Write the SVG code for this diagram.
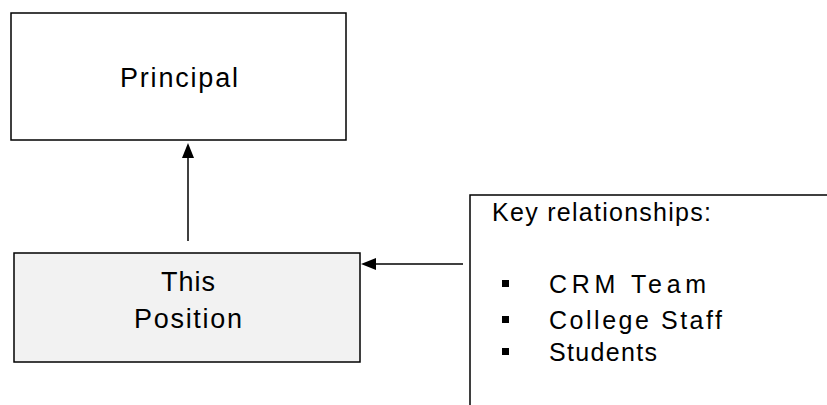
<svg xmlns="http://www.w3.org/2000/svg" width="827" height="405" viewBox="0 0 827 405">
<style>
.box{stroke:#000;stroke-width:1.5}
.t{font-family:"Liberation Sans",Arial,sans-serif;font-size:27px;fill:#000}
.s{font-size:25px}
.c{stroke:#000;stroke-width:1.5;fill:none}
</style>
<rect width="827" height="405" fill="#fff"/>
<g id="principal">
<rect class="box" x="11" y="13" width="335" height="127" fill="#fff"/>
<text class="t" x="179" y="87" text-anchor="middle" textLength="118">Principal</text>
</g>
<g id="this-position">
<rect class="box" x="14" y="253" width="346" height="109" fill="#f2f2f2"/>
<text class="t" x="188" y="291" text-anchor="middle" textLength="54">This</text>
<text class="t" x="188" y="328" text-anchor="middle" textLength="108">Position</text>
</g>
<g id="key-relationships">
<path class="c" d="M470,405 V195 H827"/>
<text class="t s" x="492" y="221" textLength="219">Key relationships:</text>
<rect x="502" y="280" width="7" height="7" fill="#000"/>
<text class="t s" x="549" y="293" textLength="157">CRM Team</text>
<rect x="502" y="316" width="7" height="7" fill="#000"/>
<text class="t s" x="549" y="329" textLength="173">College Staff</text>
<rect x="502" y="348" width="7" height="7" fill="#000"/>
<text class="t s" x="549" y="361" textLength="108">Students</text>
</g>
<g id="connectors">
<line class="c" x1="188" y1="241" x2="188" y2="150"/>
<path d="M188,143 L194,158 L182,158 Z" fill="#000"/>
<line class="c" x1="463" y1="264" x2="370" y2="264"/>
<path d="M361,264 L376,258 L376,270 Z" fill="#000"/>
</g>
</svg>
